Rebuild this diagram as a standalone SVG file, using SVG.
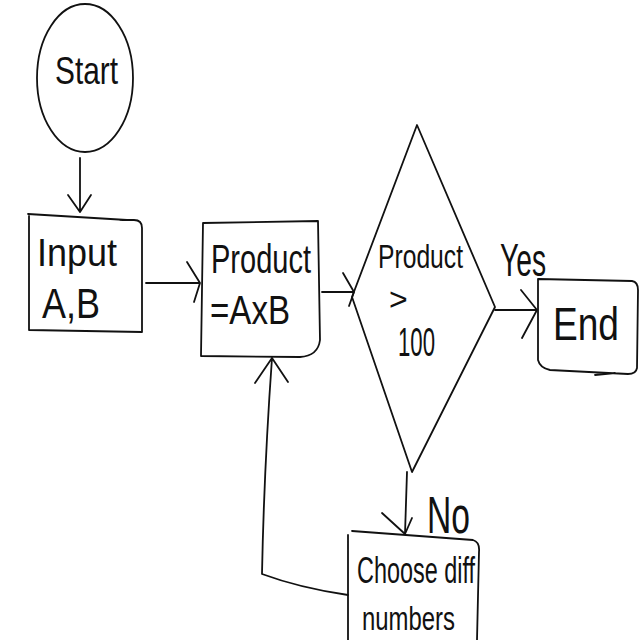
<svg xmlns="http://www.w3.org/2000/svg" width="640" height="640" viewBox="0 0 640 640">
<style>
.s{fill:none;stroke:#111;stroke-width:1.8;stroke-linecap:round;stroke-linejoin:round}
.t{font-family:"Liberation Sans","DejaVu Sans",sans-serif;fill:#111;font-weight:normal}
</style>
<rect width="640" height="640" fill="#fff"/>
<g id="connectors">
<path class="s" d="M80,158 L80,212 M68,195 L80,212 L91,195"/>
<path class="s" d="M146,283 L200,283 M187,262 L200,283 L194,302"/>
<path class="s" d="M322,292 L354,292 M343,273 L354,292 L349,306"/>
<path class="s" d="M495,310 L537,310 M521,290 L537,310 L522,338"/>
<path class="s" d="M407,472 L405,534 M382,513 L405,534 L412,518"/>
<path class="s" d="M348,595 Q300,588 262,574 Q264,470 272,358 M255,383 L272,358 L288,382"/>
<text class="t" x="500" y="276" font-size="46" textLength="46" lengthAdjust="spacingAndGlyphs">Yes</text>
<text class="t" x="427" y="533" font-size="52" textLength="43" lengthAdjust="spacingAndGlyphs">No</text>
</g>
<g id="start">
<ellipse class="s" cx="85" cy="78" rx="48" ry="74"/>
<text class="t" x="55" y="84" font-size="38" textLength="63" lengthAdjust="spacingAndGlyphs">Start</text>
</g>
<g id="input">
<path class="s" d="M28,214 L127,220 M29,216 L29,330 L142,332 L142,228 Q142,220 134,220 L120,220"/>
<text class="t" x="37" y="266" font-size="38" textLength="80" lengthAdjust="spacingAndGlyphs">Input</text>
<text class="t" x="42" y="318" font-size="42" textLength="58" lengthAdjust="spacingAndGlyphs">A,B</text>
</g>
<g id="product">
<path class="s" d="M203,223 L318,221 L320,340 Q318,356 300,357 L201,356 Z"/>
<text class="t" x="211" y="273" font-size="40" textLength="100" lengthAdjust="spacingAndGlyphs">Product</text>
<text class="t" x="210" y="324" font-size="40" textLength="80" lengthAdjust="spacingAndGlyphs">=AxB</text>
</g>
<g id="decision">
<path class="s" d="M417,125 L495,307 L412,472 L352,297 Z"/>
<text class="t" x="378" y="268" font-size="34" textLength="85" lengthAdjust="spacingAndGlyphs">Product</text>
<text class="t" x="389" y="310" font-size="32">&gt;</text>
<text class="t" x="398" y="356" font-size="40" textLength="37" lengthAdjust="spacingAndGlyphs">100</text>
</g>
<g id="end">
<path class="s" d="M538,279 L632,281 Q638,282 638,290 L637,368 Q636,374 628,374 L550,370 Q540,368 538,360 Z M595,375 L615,373"/>
<text class="t" x="553" y="340" font-size="46" textLength="66" lengthAdjust="spacingAndGlyphs">End</text>
</g>
<g id="choose">
<path class="s" d="M352,531 L473,540 Q480,542 479,552 L477,640 M348,535 L348,640"/>
<text class="t" x="357" y="583" font-size="36" textLength="118" lengthAdjust="spacingAndGlyphs">Choose diff</text>
<text class="t" x="362" y="630" font-size="34" textLength="93" lengthAdjust="spacingAndGlyphs">numbers</text>
</g>
</svg>
